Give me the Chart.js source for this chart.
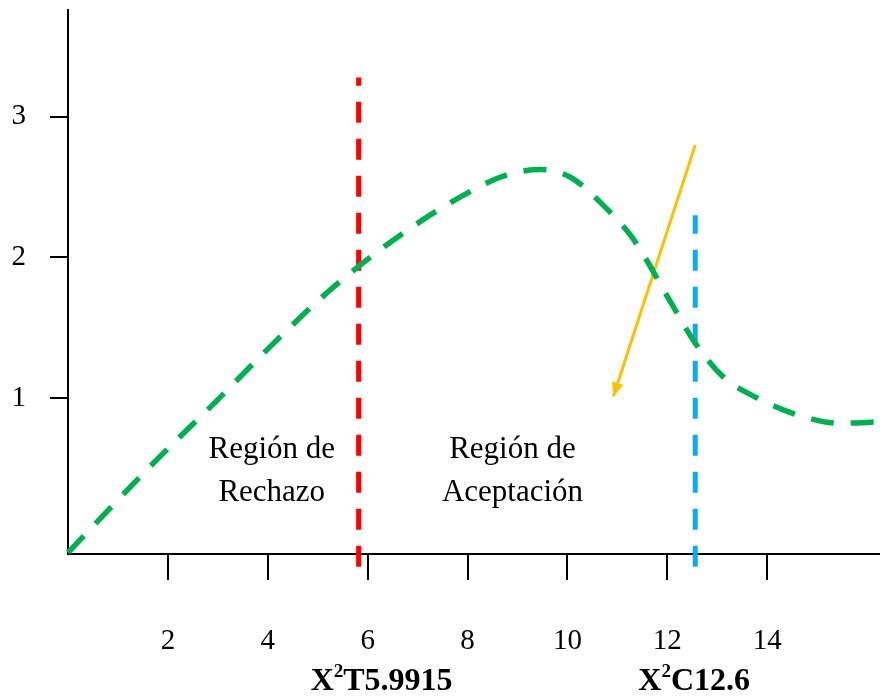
<!doctype html>
<html lang="es">
<head>
<meta charset="utf-8">
<script src="https://cdn.jsdelivr.net/npm/chart.js"></script>
<style>
    html, body { margin: 0; padding: 0; background: #fff; }
    #wrap { width: 880px; height: 698px; }
</style>
</head>
<body>
<div id="wrap"><canvas id="chi"></canvas></div>
<script>
    // curva chi-cuadrado
    var curveX = [0, 1.72, 2.92, 4.12, 5.32, 6.66, 8.06, 8.82, 9.46, 10.06, 10.72, 11.30, 12.12, 12.56, 13.12, 13.80, 14.60, 15.46, 16.26];
    var curveY = [-0.1, 0.54, 0.96, 1.39, 1.79, 2.16, 2.47, 2.59, 2.625, 2.57, 2.37, 2.14, 1.65, 1.39, 1.15, 1.00, 0.88, 0.82, 0.83];
    var xTicks = [2, 4, 6, 8, 10, 12, 14];
    var yTicks = [1, 2, 3];
    // valor de tabla y valor calculado
    var tabX = 5.82;
    var tabLine = [-0.2, 3.28];
    var calcX = 12.56;
    var calcLine = [-0.2, 2.30];
    // flecha
    var arrowX = [12.56, 10.92];
    var arrowY = [2.80, 1.01];
    // textos
    var regionText = [['Región de', 'Rechazo'], ['Región de', 'Aceptación']];
    var regionX = [4.08, 8.9];
    var regionY = [0.573, 0.267];
    var critLabels = [['X', '2', 'T5.9915'], ['X', '2', 'C12.6']];
    var critLabelX = [6.28, 12.54];

    var serif = '"Liberation Serif", "Times New Roman", serif';

    var extras = {
        id: 'extras',
        afterDatasetsDraw: function (chart) {
            var ctx = chart.ctx, xs = chart.scales.x, ys = chart.scales.y;
            // punta de la flecha
            var pts = chart.getDatasetMeta(3).data;
            var a = pts[0], b = pts[1];
            var ang = Math.atan2(b.y - a.y, b.x - a.x);
            var L = 14, W = 6;
            ctx.save();
            ctx.fillStyle = '#FFC000';
            ctx.beginPath();
            ctx.moveTo(b.x, b.y);
            ctx.lineTo(b.x - L * Math.cos(ang) + W * Math.sin(ang), b.y - L * Math.sin(ang) - W * Math.cos(ang));
            ctx.lineTo(b.x - L * Math.cos(ang) - W * Math.sin(ang), b.y - L * Math.sin(ang) + W * Math.cos(ang));
            ctx.closePath();
            ctx.fill();

            // regiones
            ctx.fillStyle = '#000';
            ctx.font = '31px ' + serif;
            ctx.textAlign = 'center';
            ctx.textBaseline = 'alphabetic';
            for (var i = 0; i < regionText.length; i++) {
                for (var j = 0; j < regionText[i].length; j++) {
                    ctx.fillText(regionText[i][j], xs.getPixelForValue(regionX[i]), ys.getPixelForValue(regionY[j]));
                }
            }

            // etiquetas X²T y X²C
            var base = chart.chartArea.bottom + 136;
            var big = 'bold 32px ' + serif, small = 'bold 19px ' + serif;
            ctx.textAlign = 'left';
            for (var k = 0; k < critLabels.length; k++) {
                var p = critLabels[k];
                ctx.font = big;
                var w0 = ctx.measureText(p[0]).width, w2 = ctx.measureText(p[2]).width;
                ctx.font = small;
                var w1 = ctx.measureText(p[1]).width;
                var x = xs.getPixelForValue(critLabelX[k]) - (w0 + w1 + w2) / 2;
                ctx.font = big;
                ctx.fillText(p[0], x, base);
                ctx.font = small;
                ctx.fillText(p[1], x + w0, base - 13);
                ctx.font = big;
                ctx.fillText(p[2], x + w0 + w1, base);
            }
            ctx.restore();
        }
    };

    var curve = curveX.map(function (x, i) { return {x: x, y: curveY[i]}; });

    new Chart(document.getElementById('chi'), {
        type: 'line',
        data: {
            datasets: [{
                data: curve,
                borderColor: '#00B050',
                borderWidth: 5.5,
                borderDash: [23, 17],
                cubicInterpolationMode: 'monotone',
                pointRadius: 0,
                clip: false
            }, {
                data: [{x: tabX, y: tabLine[0]}, {x: tabX, y: tabLine[1]}],
                borderColor: '#FF0000',
                borderWidth: 5,
                borderDash: [21, 16],
                pointRadius: 0,
                clip: false
            }, {
                data: [{x: calcX, y: calcLine[0]}, {x: calcX, y: calcLine[1]}],
                borderColor: '#00B0F0',
                borderWidth: 5,
                borderDash: [21, 16],
                pointRadius: 0,
                clip: false
            }, {
                data: [{x: arrowX[0], y: arrowY[0]}, {x: arrowX[1], y: arrowY[1]}],
                borderColor: '#FFC000',
                borderWidth: 3,
                pointRadius: 0,
                clip: false
            }]
        },
        options: {
            responsive: true,
            maintainAspectRatio: false,
            animation: false,
            layout: {padding: {top: 10, right: 0, left: 0, bottom: 0}},
            plugins: {
                legend: {display: false},
                tooltip: {enabled: false}
            },
            scales: {
                x: {
                    type: 'linear',
                    min: 0,
                    max: 16.26,
                    afterBuildTicks: function (scale) {
                        scale.ticks = xTicks.map(function (v) { return {value: v}; });
                    },
                    afterFit: function (scale) {
                        scale.height = 144;
                        scale.paddingLeft = 0;
                        scale.paddingRight = 0;
                    },
                    border: {display: true, color: '#000', width: 2},
                    grid: {display: true, drawOnChartArea: false, drawTicks: true, tickLength: 26, color: '#000', lineWidth: 2},
                    ticks: {color: '#000', font: {family: serif, size: 29}, padding: 44, maxRotation: 0}
                },
                y: {
                    type: 'linear',
                    min: -0.11,
                    max: 3.76,
                    afterBuildTicks: function (scale) {
                        scale.ticks = yTicks.map(function (v) { return {value: v}; });
                    },
                    afterFit: function (scale) {
                        scale.width = 68;
                        scale.paddingTop = 0;
                        scale.paddingBottom = 0;
                    },
                    border: {display: true, color: '#000', width: 2},
                    grid: {display: true, drawOnChartArea: false, drawTicks: true, tickLength: 18, color: '#000', lineWidth: 2},
                    ticks: {color: '#000', font: {family: serif, size: 29}, padding: 24}
                }
            }
        },
        plugins: [extras]
    });
</script>
</body>
</html>
